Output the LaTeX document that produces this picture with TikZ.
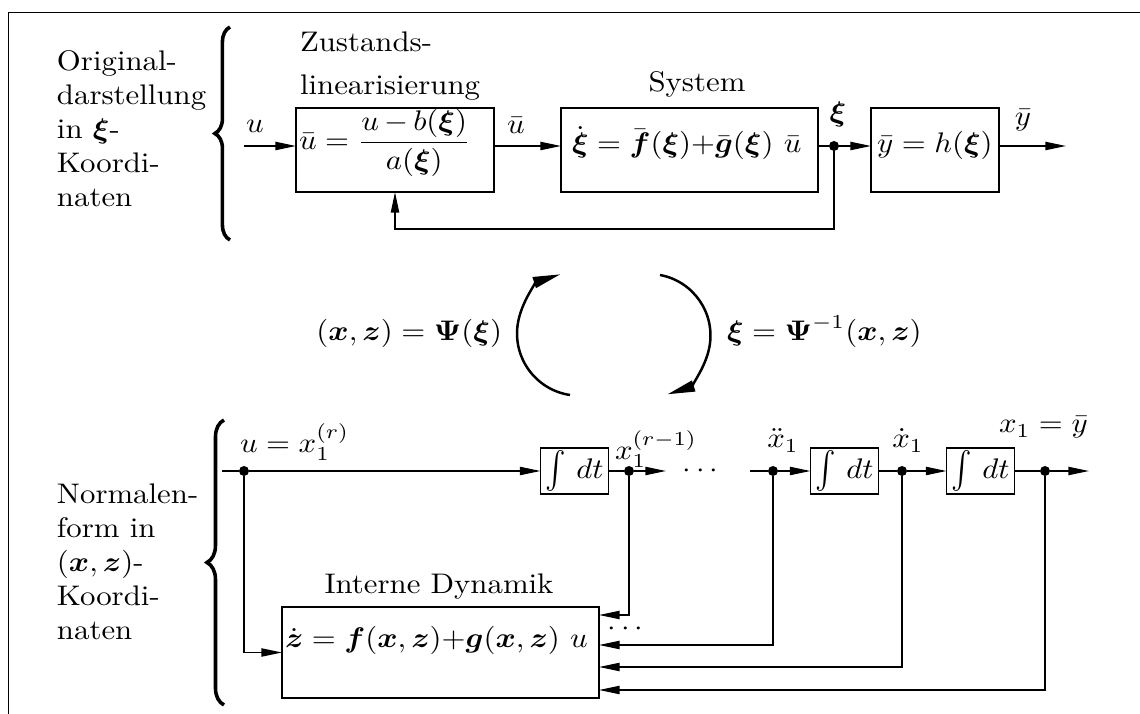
\documentclass[tikz,border=0pt]{standalone}
\usepackage{amsmath}
\usepackage{graphicx}
\usetikzlibrary{arrows.meta,decorations.pathreplacing}
\newcommand\pxu{0.3636pt}
\newcommand\sx[1]{\scalebox{1.12}[1.03]{#1}}
\newcommand\intdt{$\vcenter{\hbox{\scalebox{1}[1.3]{$\int$}}}\ dt$}
\begin{document}
\begin{tikzpicture}[x=0.3636pt,y=-0.3636pt,
  every node/.style={inner sep=0pt, outer sep=0pt},
  blk/.style={draw, line width=0.5pt, inner sep=0pt},
  junc/.style={circle, fill, minimum size=10*\pxu, inner sep=0pt},
  con/.style={line width=0.5pt},
  arr/.style={con, -{Triangle[length=7.5pt,width=3pt]}},
  bigarr/.style={line width=0.9pt, -{Triangle[length=10pt,width=4pt]}},
  brc/.style={decorate, line width=1.3pt, decoration={brace, amplitude=#1}},
  txt/.style={anchor=base west},
  ctxt/.style={anchor=base},
]
\useasboundingbox (0,0) rectangle (1140,714);
% frame
\draw[line width=0.6pt] (8.5,714) -- (8.5,12.5) -- (1140,12.5);

% ---------- top part ----------
\node[txt] (L1) at (57,71) {\sx{\begin{tabular}[t]{@{}l@{}}Original-\\darstellung\\in $\boldsymbol\xi$-\\Koordi-\\naten\end{tabular}}};
\coordinate (br1b) at (230,240);
\coordinate (br1t) at (230,27);
\draw[brc=5.5pt] (br1b) -- (br1t);

\node[txt] (zl1) at (300,52) {\sx{Zustands-}};
\node[txt] (zl2) at (300,95) {\sx{linearisierung}};
\node[ctxt] (sysl) at (697,92) {\sx{System}};

\node[blk, anchor=north west, minimum width=198*\pxu, minimum height=84*\pxu] (b1) at (296,108) {};
\node[blk, anchor=north west, minimum width=257*\pxu, minimum height=84*\pxu] (b2) at (561,108) {};
\node[blk, anchor=north west, minimum width=128*\pxu, minimum height=84*\pxu] (b3) at (871,108) {};

\node[txt] (t1) at (299,150) {\sx{$\bar u = \dfrac{u\,{-}\,b(\boldsymbol\xi)}{a(\boldsymbol\xi)}$}};
\node[txt] (t2) at (572,153) {\sx{$\dot{\boldsymbol\xi} = \bar{\boldsymbol f}(\boldsymbol\xi){+}\bar{\boldsymbol g}(\boldsymbol\xi)\ \bar u$}};
\node[txt] (t3) at (877,153) {\sx{$\bar y = h(\boldsymbol\xi)$}};

\coordinate (uin) at (244,146);
\coordinate (yout) at (1066,146);
\node[junc] (j1) at (834,146) {};
\coordinate (fb) at (395,229);

\node[ctxt] (ul) at (255,133) {\sx{$u$}};
\node[ctxt] (ubl) at (516,134) {\sx{$\bar u$}};
\node[ctxt] (xil) at (838,122) {\sx{$\boldsymbol\xi$}};
\node[ctxt] (ybl) at (1023,126) {\sx{$\bar y$}};

\draw[arr] (uin) -- (uin -| b1.west);
\draw[arr] (b1.east |- uin) -- (b2.west |- uin);
\draw[con] (b2.east |- uin) -- (j1);
\draw[arr] (j1) -- (j1 -| b3.west);
\draw[arr] (b3.east |- uin) -- (yout);
\draw[arr] (j1) |- (fb) -- (b1.south);

% ---------- middle ----------
\node[anchor=base east] (psi1) at (502,341) {\sx{$(\boldsymbol x,\boldsymbol z) = \boldsymbol\Psi(\boldsymbol\xi)$}};
\node[anchor=base west] (psi2) at (727,341) {\sx{$\boldsymbol\xi = \boldsymbol\Psi^{-1}(\boldsymbol x,\boldsymbol z)$}};
\coordinate (a1s) at (570,395);
\coordinate (a2s) at (660,275);
\draw[bigarr] (a1s) arc[start angle=261.5, end angle=107.6, radius=22.6pt];
\draw[bigarr] (a2s) arc[start angle=79.6, end angle=-72.4, radius=22.4pt];

% ---------- bottom part ----------
\node[txt] (L2) at (57,504) {\sx{\begin{tabular}[t]{@{}l@{}}Normalen-\\form in\\$(\boldsymbol x,\boldsymbol z)$-\\Koordi-\\naten\end{tabular}}};
\coordinate (br2b) at (224,705);
\coordinate (br2t) at (224,420);
\draw[brc=6.2pt] (br2b) -- (br2t);

\node[blk, minimum width=68*\pxu, minimum height=46*\pxu] (i1) at (574.5,471) {\sx{\intdt}};
\node[blk, minimum width=68*\pxu, minimum height=46*\pxu] (i2) at (844.5,471) {\sx{\intdt}};
\node[blk, minimum width=68*\pxu, minimum height=46*\pxu] (i3) at (980.5,471) {\sx{\intdt}};

\coordinate (s0) at (222,471);
\node[junc] (j0) at (244,471) {};
\node[junc] (jb1) at (629,471) {};
\coordinate (e1) at (666,471);
\coordinate (c2) at (750,471);
\node[junc] (jb2) at (773,471) {};
\node[junc] (jb3) at (902,471) {};
\node[junc] (jb4) at (1045,471) {};
\coordinate (e4) at (1089,471);

\node[ctxt] (dots1) at (703,478) {\sx{$\cdots$}};
\node[txt] (lu) at (240,453) {\sx{$u = x_1^{(r)}$}};
\node[txt] (lx1) at (615,460) {\sx{$x_1^{(r-1)}$}};
\node[ctxt] (lx2) at (783,448) {\sx{$\ddot x_1$}};
\node[ctxt] (lx3) at (908,448) {\sx{$\dot x_1$}};
\node[txt] (lx4) at (999,433) {\sx{$x_1 = \bar y$}};

\node[ctxt] (idl) at (439,594) {\sx{Interne Dynamik}};
\node[blk, anchor=north west, minimum width=317*\pxu, minimum height=91*\pxu] (idb) at (282,607) {};
\node[txt] (idt) at (285,648) {\sx{$\dot{\boldsymbol z} = \boldsymbol f(\boldsymbol x,\boldsymbol z){+}\boldsymbol g(\boldsymbol x,\boldsymbol z)\ u$}};
\node[ctxt] (dots2) at (628,636) {\sx{$\cdots$}};

\draw[con] (s0) -- (j0);
\draw[arr] (j0) -- (i1);
\draw[con] (i1) -- (jb1);
\draw[arr] (jb1) -- (e1);
\draw[con] (c2) -- (jb2);
\draw[arr] (jb2) -- (i2);
\draw[con] (i2) -- (jb3);
\draw[arr] (jb3) -- (i3);
\draw[con] (i3) -- (jb4);
\draw[arr] (jb4) -- (e4);

\draw[arr] (j0) |- (idb.west);
\coordinate (r1) at (0,615);
\coordinate (r2) at (0,645);
\coordinate (r3) at (0,667);
\coordinate (r4) at (0,690);
\draw[arr] (jb1) |- (idb.east |- r1);
\draw[arr] (jb2) |- (idb.east |- r2);
\draw[arr] (jb3) |- (idb.east |- r3);
\draw[arr] (jb4) |- (idb.east |- r4);
\end{tikzpicture}
\end{document}
